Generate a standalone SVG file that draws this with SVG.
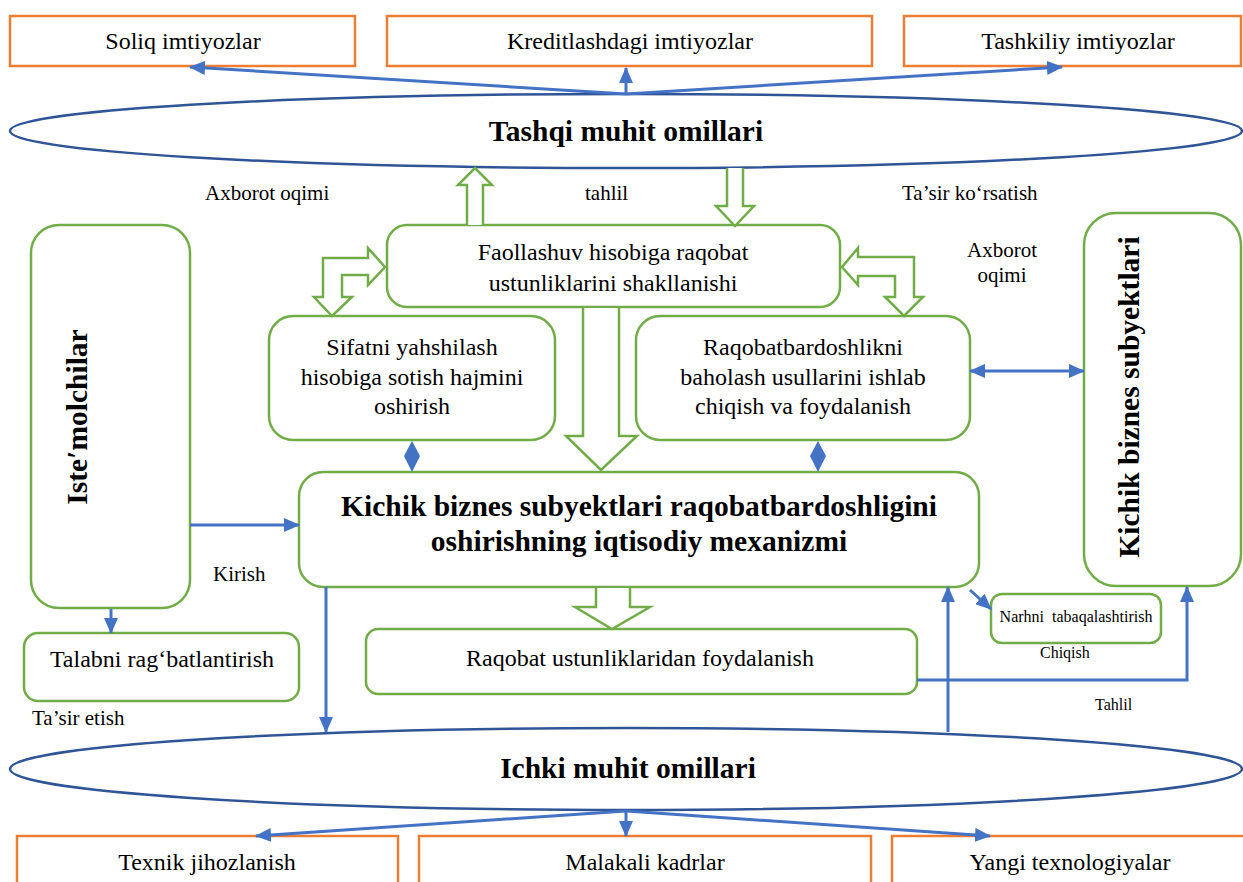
<svg xmlns="http://www.w3.org/2000/svg" width="1243" height="882" viewBox="0 0 1243 882">
<style>
.g{fill:#fff;stroke:#70AD47;stroke-width:2.5}
.o{fill:#fff;stroke:#ED7D31;stroke-width:2.5}
.e{fill:#fff;stroke:#2F5597;stroke-width:2.5}
.c{fill:none;stroke:#4472C4;stroke-width:3}
.h{fill:#fff;stroke:#70AD47;stroke-width:2.5;stroke-linejoin:miter}
.d{fill:#4472C4;stroke:none}
text{font-family:"Liberation Serif","Times New Roman",serif;fill:#000}
.m{font-size:24px;text-anchor:middle}
.l{font-size:21px}
.s{font-size:16px}
.b{font-size:29.5px;font-weight:bold;text-anchor:middle}
</style>
<defs>
<marker id="ah" markerUnits="userSpaceOnUse" markerWidth="16" markerHeight="14" refX="15" refY="7" orient="auto-start-reverse">
<path d="M0,0 L16,7 L0,14 Z" fill="#4472C4"/>
</marker>
</defs>
<rect width="1243" height="882" fill="#fff"/>

<g id="tashqi">
<ellipse class="e" cx="626" cy="131" rx="616" ry="37"/>
<text class="b" x="626" y="141">Tashqi muhit omillari</text>
</g>
<g id="ichki">
<ellipse class="e" cx="626" cy="769" rx="616" ry="41"/>
<text class="b" x="628" y="778">Ichki muhit omillari</text>
</g>

<g id="soliq"><rect class="o" x="10" y="16" width="345" height="50"/><text class="m" x="183" y="49">Soliq imtiyozlar</text></g>
<g id="kredit"><rect class="o" x="387" y="16" width="485" height="50"/><text class="m" x="630" y="49">Kreditlashdagi imtiyozlar</text></g>
<g id="tashkiliy"><rect class="o" x="904" y="16" width="337" height="50"/><text class="m" x="1078" y="49">Tashkiliy imtiyozlar</text></g>

<g id="texnik"><rect class="o" x="17" y="836" width="381" height="60"/><text class="m" x="207" y="870">Texnik jihozlanish</text></g>
<g id="malakali"><rect class="o" x="419" y="836" width="452" height="60"/><text class="m" x="645" y="870">Malakali kadrlar</text></g>
<g id="yangi"><rect class="o" x="892" y="836" width="360" height="60"/><text class="m" x="1070" y="870">Yangi texnologiyalar</text></g>

<g id="faollashuv"><rect class="g" x="387" y="225" width="453" height="82" rx="20"/>
<text class="m" x="613" y="260">Faollashuv hisobiga raqobat</text>
<text class="m" x="613" y="291">ustunliklarini shakllanishi</text></g>

<g id="sifatni"><rect class="g" x="269" y="316" width="286" height="124" rx="24"/>
<text class="m" x="412" y="355">Sifatni yahshilash</text>
<text class="m" x="412" y="385">hisobiga sotish hajmini</text>
<text class="m" x="412" y="414">oshirish</text></g>

<g id="raqobatbardoshlik"><rect class="g" x="636" y="316" width="334" height="124" rx="24"/>
<text class="m" x="803" y="355">Raqobatbardoshlikni</text>
<text class="m" x="803" y="385">baholash usullarini ishlab</text>
<text class="m" x="803" y="414">chiqish va foydalanish</text></g>

<g id="mexanizm"><rect class="g" x="299" y="472" width="680" height="115" rx="24"/>
<text class="b" x="639" y="516">Kichik biznes subyektlari raqobatbardoshligini</text>
<text class="b" x="639" y="551">oshirishning iqtisodiy mexanizmi</text></g>

<g id="ustunlik"><rect class="g" x="366" y="629" width="551" height="65" rx="12"/>
<text class="m" x="640" y="666">Raqobat ustunliklaridan foydalanish</text></g>

<g id="istemolchilar"><rect class="g" x="31" y="225" width="159" height="383" rx="28"/>
<text class="b" transform="translate(87,417) rotate(-90)">Iste′molchilar</text></g>

<g id="subyektlar"><rect class="g" x="1084" y="213" width="157" height="373" rx="32"/>
<text class="b" transform="translate(1139,397) rotate(-90)">Kichik biznes subyektlari</text></g>

<g id="talabni"><rect class="g" x="24" y="633" width="275" height="68" rx="14"/>
<text class="m" x="162" y="667">Talabni rag‘batlantirish</text></g>

<g id="narhni"><rect class="g" x="991" y="594" width="170" height="49" rx="11"/>
<text class="s" x="1076" y="622" text-anchor="middle" xml:space="preserve">Narhni  tabaqalashtirish</text></g>

<g id="connectors">
<line class="c" x1="626" y1="94" x2="190" y2="67" marker-end="url(#ah)"/>
<line class="c" x1="626" y1="94" x2="626" y2="68" marker-end="url(#ah)"/>
<line class="c" x1="626" y1="94" x2="1062" y2="67" marker-end="url(#ah)"/>
<line class="c" x1="626" y1="811" x2="256" y2="836" marker-end="url(#ah)"/>
<line class="c" x1="626" y1="811" x2="626" y2="836" marker-end="url(#ah)"/>
<line class="c" x1="626" y1="811" x2="990" y2="836" marker-end="url(#ah)"/>
<line class="c" x1="190" y1="525" x2="299" y2="525" marker-end="url(#ah)"/>
<line class="c" x1="111" y1="609" x2="111" y2="633" marker-end="url(#ah)"/>
<line class="c" x1="970" y1="371" x2="1084" y2="371" marker-start="url(#ah)" marker-end="url(#ah)"/>
<line class="c" x1="970" y1="590" x2="991" y2="609" marker-end="url(#ah)"/>
<polyline class="c" points="917,680 1187,680 1187,587" marker-end="url(#ah)"/>
<line class="c" x1="948" y1="732" x2="948" y2="587" marker-end="url(#ah)"/>
<line class="c" x1="326" y1="587" x2="326" y2="732" marker-end="url(#ah)"/>
<path class="d" d="M412,441 L420,456 L412,472 L404,456 Z"/>
<path class="d" d="M818,441 L826,456 L818,472 L810,456 Z"/>
<path class="h" d="M467,225 L467,185 L458,185 L475,168 L492,185 L483,185 L483,225"/>
<path class="h" d="M727,168 L727,206 L716,206 L735,226 L754,206 L743,206 L743,168"/>
<path class="h" d="M385,267 L368,248 L368,258 L323,258 L323,297 L314,297 L332,316 L352,297 L342,297 L342,275 L368,275 L368,285 Z"/>
<path class="h" d="M842,267 L858,248 L858,257 L914,257 L914,297 L923,297 L904,316 L885,297 L895,297 L895,276 L858,276 L858,285 Z"/>
<path class="h" d="M583,308 L583,436 L566,436 L601,470 L637,436 L619,436 L619,308"/>
<path class="h" d="M596,588 L596,607 L575,607 L612,629 L650,607 L630,607 L630,588"/>
</g>

<g id="labels">
<text class="l" x="205" y="200">Axborot oqimi</text>
<text class="l" x="585" y="200">tahlil</text>
<text class="l" x="902" y="200">Ta’sir ko‘rsatish</text>
<text class="l" x="1002" y="257" text-anchor="middle">Axborot</text>
<text class="l" x="1002" y="282" text-anchor="middle">oqimi</text>
<text class="l" x="213" y="581">Kirish</text>
<text class="l" x="32" y="725">Ta’sir etish</text>
<text class="s" x="1040" y="658">Chiqish</text>
<text class="s" x="1095" y="710">Tahlil</text>
</g>
</svg>
